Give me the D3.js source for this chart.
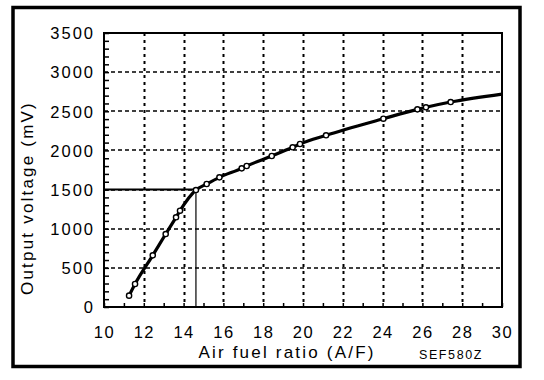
<!DOCTYPE html>
<html><head><meta charset="utf-8">
<script src="https://cdn.jsdelivr.net/npm/d3@7"></script>
<style>
html,body{margin:0;padding:0;background:#fff;}
svg{display:block;}
text{font-family:"Liberation Sans",Arial,Helvetica,sans-serif;fill:#000;}
</style></head>
<body>
<svg id="chart" width="544" height="380"></svg>
<script>
// Data
const afr = [11.26, 11.56, 12.45, 13.1, 13.62, 13.82, 14.62, 15.16, 15.8, 16.92, 17.17, 18.43, 19.48, 19.85, 21.16, 24.04, 25.75, 26.18, 27.42];
const mv  = [145, 294, 660, 932, 1146, 1230, 1494, 1571, 1656, 1771, 1801, 1929, 2040, 2082, 2193, 2405, 2525, 2551, 2618];
const lineEndAfr = 30;
const lineEndMv = 2720;
const refAfr = 14.62;
const refMv = 1500;
const xTicks = [10, 12, 14, 16, 18, 20, 22, 24, 26, 28, 30];
const yTicks = [0, 500, 1000, 1500, 2000, 2500, 3000, 3500];
const xTitle = "Air fuel ratio (A/F)";
const yTitle = "Output voltage (mV)";
const codeLabel = "SEF580Z";

const svg = d3.select("#chart");
const L = 104, R = 502, T = 33, B = 307;
const x = d3.scaleLinear().domain([10, 30]).range([L, R]);
const y = d3.scaleLinear().domain([0, 3500]).range([B, T]);

// outer frame
svg.append("rect").attr("x", 13).attr("y", 7.5).attr("width", 507).attr("height", 359)
  .attr("fill", "none").attr("stroke", "#000").attr("stroke-width", 3.5);

// grid
const g = svg.append("g");
g.selectAll("line.vg").data(xTicks.filter(d => d > 10 && d < 30)).join("line")
  .attr("x1", d => Math.round(x(d)) + 0.5).attr("x2", d => Math.round(x(d)) + 0.5)
  .attr("y1", T).attr("y2", B)
  .attr("stroke", "#000").attr("stroke-width", 2).attr("stroke-dasharray", "3,4");
g.selectAll("line.hg").data(yTicks.filter(d => d > 0 && d < 3500)).join("line")
  .attr("y1", d => Math.round(y(d))).attr("y2", d => Math.round(y(d)))
  .attr("x1", L).attr("x2", R)
  .attr("stroke", "#000").attr("stroke-width", 1.5).attr("stroke-dasharray", "4,3");

// minor ticks (inward)
const xMinor = d3.range(10, 31, 1);
const yMinor = d3.range(0, 3501, 100);
svg.append("g").attr("transform", `translate(0,${B})`)
  .call(d3.axisBottom(x).tickValues(xMinor).tickSize(-4).tickFormat(""))
  .call(a => a.select(".domain").remove())
  .call(a => a.selectAll("line").attr("stroke-width", 1.5));
svg.append("g").attr("transform", `translate(${L},0)`)
  .call(d3.axisLeft(y).tickValues(yMinor).tickSize(-5).tickFormat(""))
  .call(a => a.select(".domain").remove())
  .call(a => a.selectAll("line").attr("stroke-width", 1.5));

// tick labels via axes
svg.append("g").attr("transform", `translate(0,${B})`)
  .call(d3.axisBottom(x).tickValues(xTicks).tickFormat(d3.format("d")).tickSize(0).tickPadding(19))
  .call(a => a.select(".domain").remove())
  .call(a => a.selectAll("text").style("font-size", "16.5px").style("letter-spacing", "1.5px")
      .attr("font-family", null));
svg.append("g").attr("transform", `translate(${L},0)`)
  .call(d3.axisLeft(y).tickValues(yTicks).tickFormat(d3.format("d")).tickSize(0).tickPadding(9))
  .call(a => a.select(".domain").remove())
  .call(a => a.selectAll("text").style("font-size", "16.5px").style("letter-spacing", "2px")
      .attr("dy", "0.35em").attr("font-family", null));

// plot frame
svg.append("rect").attr("x", L).attr("y", T).attr("width", R - L).attr("height", B - T)
  .attr("fill", "none").attr("stroke", "#000").attr("stroke-width", 2);

// reference lines
svg.append("line").attr("x1", L).attr("x2", x(refAfr)).attr("y1", y(refMv)).attr("y2", y(refMv))
  .attr("stroke", "#000").attr("stroke-width", 2);
svg.append("line").attr("x1", x(refAfr)).attr("x2", x(refAfr)).attr("y1", y(refMv)).attr("y2", B)
  .attr("stroke", "#000").attr("stroke-width", 1.2);

// curve
const pts = afr.map((a, i) => [a, mv[i]]);
const linePts = pts.concat([[lineEndAfr, lineEndMv]]);
svg.append("path").datum(linePts)
  .attr("d", d3.line().x(d => x(d[0])).y(d => y(d[1])).curve(d3.curveMonotoneX))
  .attr("fill", "none").attr("stroke", "#000").attr("stroke-width", 3.2);
svg.selectAll("circle.m").data(pts).join("circle")
  .attr("cx", d => x(d[0])).attr("cy", d => y(d[1])).attr("r", 2.6)
  .attr("fill", "#fff").attr("stroke", "#000").attr("stroke-width", 1.4);

// titles
svg.append("text").attr("x", 287).attr("y", 358).attr("text-anchor", "middle")
  .style("font-size", "17px").style("letter-spacing", "2.2px").text(xTitle);
svg.append("text").attr("transform", "translate(33,198) rotate(-90)").attr("text-anchor", "middle")
  .style("font-size", "17px").style("letter-spacing", "2.2px").text(yTitle);
svg.append("text").attr("x", 451).attr("y", 359).attr("text-anchor", "middle")
  .style("font-size", "12.5px").style("letter-spacing", "1.6px").text(codeLabel);
</script>
</body></html>
